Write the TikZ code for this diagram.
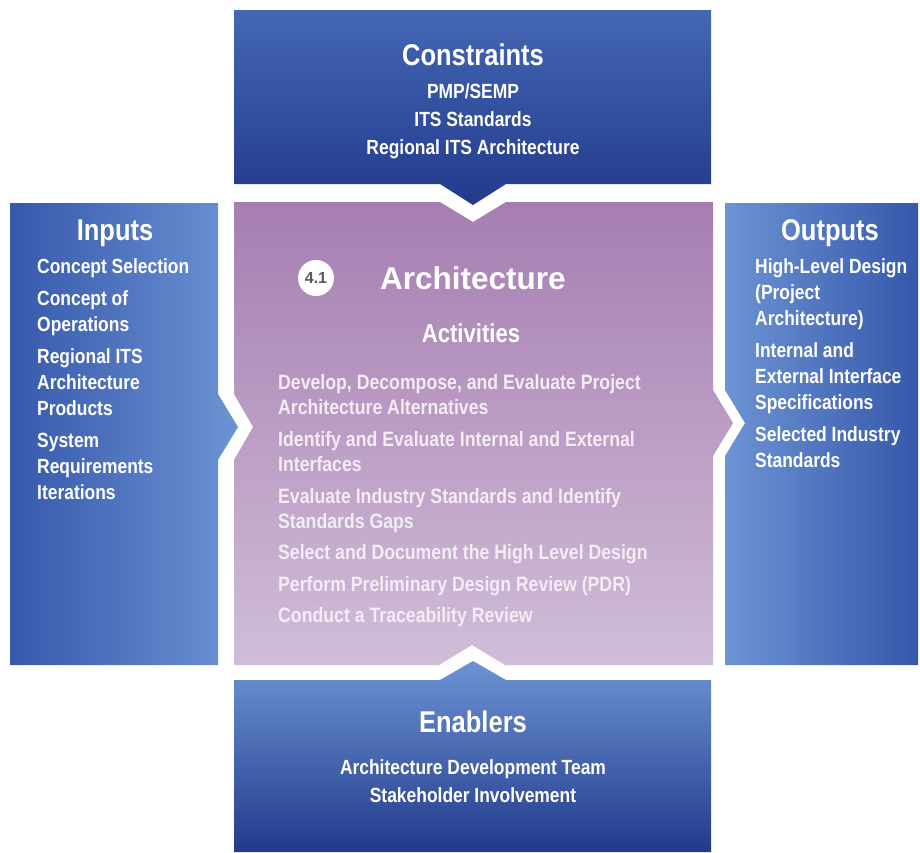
\documentclass[tikz,border=0pt]{standalone}
\usepackage{fontspec}
\setmainfont{Liberation Sans}[FakeStretch=0.85]
\newfontfamily\widefont{Liberation Sans}
\usetikzlibrary{positioning}
\definecolor{bluedark}{HTML}{233A8C}
\definecolor{bluelight}{HTML}{6C93D3}
\definecolor{bluemid}{HTML}{4467B4}
\definecolor{blueside}{HTML}{3658AC}
\definecolor{purpletop}{HTML}{A67EB1}
\definecolor{purplebot}{HTML}{D0BDD8}
\definecolor{acttext}{HTML}{F3ECF4}

\begin{document}
\begin{tikzpicture}[x=1pt,y=-1pt,
    boxtitle/.style={text=white,font=\bfseries\fontsize{30}{36}\selectfont,inner sep=0pt},
    boxitem/.style={text=white,font=\bfseries\fontsize{20.5}{26}\selectfont,align=center,inner sep=0pt},
    listitem/.style={text=white,font=\bfseries\fontsize{20.5}{26}\selectfont,align=left,inner sep=0pt},
    actitem/.style={text=acttext,font=\bfseries\fontsize{20.8}{25.7}\selectfont,align=left,inner sep=0pt}]
    \useasboundingbox (0,0) rectangle (920,852);

    \shade[top color=bluemid,bottom color=bluedark] (234,10) -- (711,10) -- (711,184) -- (506,184) -- (473,205) -- (440,184) -- (234,184) -- cycle;
    \shade[left color=blueside,right color=bluelight] (10,203) -- (218,203) -- (218,394) -- (238,427) -- (218,460) -- (218,665) -- (10,665) -- cycle;
    \shade[left color=bluelight,right color=blueside] (725,203) -- (918,203) -- (918,665) -- (725,665) -- (725,456) -- (745,423) -- (725,390) -- cycle;
    \shade[top color=bluelight,bottom color=bluedark] (234,680) -- (440,680) -- (473,661) -- (506,680) -- (711,680) -- (711,852) -- (234,852) -- cycle;
    \shade[top color=purpletop,bottom color=purplebot] (234,202) -- (440,202) -- (473,222) -- (506,202) -- (713,202) -- (713,390) -- (733,423) -- (713,456) -- (713,665) -- (505,665) -- (472,645) -- (439,665) -- (234,665) -- (234,460) -- (253,427) -- (234,394) -- cycle;

    \node[boxtitle] (constraints) at (473,55) {Constraints};
    \node[boxitem,anchor=north] (constrlist) at (473,83) {PMP/SEMP\\[2pt] ITS Standards\\[2pt] Regional ITS Architecture};

    \node[boxtitle] (inputs) at (115,233) {Inputs};
    \node[listitem,anchor=north west] (inlist) at (37,258) {Concept Selection\\[6pt] Concept of\\ Operations\\[6pt] Regional ITS\\ Architecture\\ Products\\[6pt] System\\ Requirements\\ Iterations};

    \node[boxtitle] (outputs) at (830,233) {Outputs};
    \node[listitem,anchor=north west] (outlist) at (755,258) {High-Level Design\\ (Project\\ Architecture)\\[6pt] Internal and\\ External Interface\\ Specifications\\[6pt] Selected Industry\\ Standards};

    \node[circle,fill=white,minimum size=36pt,inner sep=0pt,text=black!65,font=\widefont\bfseries\fontsize{16}{19}\selectfont] (step41) at (316,278) {4.1};
    \node[text=white,font=\widefont\bfseries\fontsize{31.5}{36}\selectfont,inner sep=0pt,anchor=west] (arch) at (380,278) {Architecture};
    \node[text=white,font=\bfseries\fontsize{26}{30}\selectfont,inner sep=0pt] (activities) at (471,333) {Activities};
    \node[actitem,anchor=north west] (actlist) at (278,374) {Develop, Decompose, and Evaluate Project\\ Architecture Alternatives\\[5.5pt] Identify and Evaluate Internal and External\\ Interfaces\\[5.5pt] Evaluate Industry Standards and Identify\\ Standards Gaps\\[5.5pt] Select and Document the High Level Design\\[5.5pt] Perform Preliminary Design Review (PDR)\\[5.5pt] Conduct a Traceability Review};

    \node[boxtitle] (enablers) at (473,722) {Enablers};
    \node[boxitem,anchor=north] (enablist) at (473,759) {Architecture Development Team\\[2pt] Stakeholder Involvement};
\end{tikzpicture}
\end{document}
